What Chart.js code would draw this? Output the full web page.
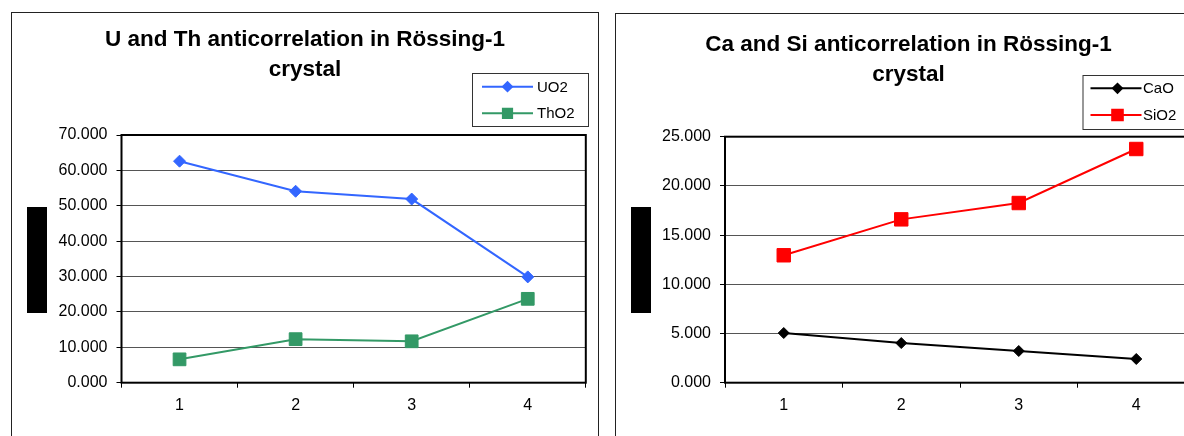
<!DOCTYPE html>
<html>
<head>
<meta charset="utf-8">
<script src="https://cdn.jsdelivr.net/npm/chart.js@4.4.0/dist/chart.umd.min.js"></script>
<style>
  html, body { margin: 0; padding: 0; background: #fff; width: 1184px; height: 436px; overflow: hidden; }
  .frame { position: absolute; border: 1px solid #222; background: #fff; }
  canvas { position: absolute; top: 0; }
</style>
</head>
<body>
<div class="frame" style="left:11px; top:12px; width:586px; height:440px;"></div>
<div class="frame" style="left:615px; top:13px; width:600px; height:440px;"></div>
<canvas id="c1" width="610" height="436" style="left:0px;"></canvas>
<canvas id="c2" width="617" height="436" style="left:600px;"></canvas>
<script>
// ---- data ----
const categories = ['1', '2', '3', '4'];
const uo2Values = [62.6, 54.1, 51.9, 29.9];
const tho2Values = [6.6, 12.3, 11.7, 23.7];
const caoValues = [5.05, 4.03, 3.22, 2.41];
const sio2Values = [12.95, 16.6, 18.26, 23.75];
const leftTicks = [0, 10, 20, 30, 40, 50, 60, 70];
const rightTicks = [0, 5, 10, 15, 20, 25];
const leftTitle = ['U and Th anticorrelation in Rössing-1', 'crystal'];
const rightTitle = ['Ca and Si anticorrelation in Rössing-1', 'crystal'];

const FONT = "'Liberation Sans', Arial, sans-serif";

// plot frame + redacted axis-title block
const framePlugin = {
  id: 'plotFrame',
  beforeDatasetsDraw(chart) {
    const a = chart.chartArea, ctx = chart.ctx;
    ctx.save();
    ctx.strokeStyle = '#000';
    ctx.lineWidth = 2;
    ctx.strokeRect(a.left, a.top, a.right - a.left, a.bottom - a.top);
    const r = chart.options.plugins.plotFrame.block;
    if (r) { ctx.fillStyle = '#000'; ctx.fillRect(r[0], r[1], r[2], r[3]); }
    ctx.restore();
  }
};

// boxed legend drawn from the datasets
const boxLegend = {
  id: 'boxLegend',
  afterDraw(chart) {
    const o = chart.options.plugins.boxLegend;
    const ctx = chart.ctx;
    ctx.save();
    ctx.fillStyle = '#fff';
    ctx.fillRect(o.box[0], o.box[1], o.box[2], o.box[3]);
    ctx.strokeStyle = '#333';
    ctx.lineWidth = 1;
    ctx.strokeRect(o.box[0] + 0.5, o.box[1] + 0.5, o.box[2], o.box[3]);
    chart.data.datasets.forEach((ds, i) => {
      const y = o.rows[i];
      ctx.strokeStyle = ds.borderColor;
      ctx.lineWidth = 2;
      ctx.beginPath();
      ctx.moveTo(o.line[0], y);
      ctx.lineTo(o.line[1], y);
      ctx.stroke();
      ctx.fillStyle = ds.pointBackgroundColor;
      ctx.strokeStyle = ds.pointBorderColor;
      Chart.helpers.drawPoint(ctx, { pointStyle: ds.pointStyle, radius: o.markerRadius[i], rotation: 0, borderWidth: 1 }, o.marker, y);
      ctx.fillStyle = '#000';
      ctx.font = '15px ' + FONT;
      ctx.textAlign = 'left';
      ctx.textBaseline = 'middle';
      ctx.fillText(ds.label, o.text, y + 1);
    });
    ctx.restore();
  }
};

function makeChart(id, cfg) {
  return new Chart(document.getElementById(id), {
    type: 'line',
    data: {
      labels: categories,
      datasets: cfg.series.map(s => ({
        label: s.label,
        data: s.data,
        yAxisID: 'y',
        borderColor: s.color,
        backgroundColor: s.color,
        pointBackgroundColor: s.color,
        pointBorderColor: s.color,
        pointStyle: s.style,
        pointRadius: s.radius,
        pointHoverRadius: s.radius,
        pointBorderWidth: 1,
        borderWidth: 2,
        tension: 0,
        fill: false
      }))
    },
    options: {
      responsive: false,
      animation: false,
      events: [],
      layout: { padding: 0 },
      plugins: {
        legend: { display: false },
        tooltip: { enabled: false },
        title: {
          display: true,
          text: cfg.title,
          color: '#000',
          font: { family: FONT, size: 22.5, weight: 'bold', lineHeight: 1.32 },
          padding: { top: cfg.titleTop, bottom: cfg.titleBottom }
        },
        plotFrame: { block: cfg.block },
        boxLegend: cfg.legend
      },
      scales: {
        x: {
          type: 'category',
          offset: true,
          grid: { offset: true, drawOnChartArea: false, drawTicks: true, tickLength: 5, tickColor: '#000', lineWidth: 1 },
          border: { display: false },
          ticks: { color: '#000', font: { family: FONT, size: 16 }, padding: 8, maxRotation: 0 },
          afterFit(scale) { scale.height = 436 - cfg.bottom; }
        },
        y: {
          position: 'left',
          min: cfg.ticks[0],
          max: cfg.ticks[cfg.ticks.length - 1],
          afterBuildTicks(scale) { scale.ticks = cfg.ticks.map(v => ({ value: v })); },
          grid: { color: '#555', lineWidth: 1, drawTicks: true, tickLength: 5, tickColor: '#000' },
          border: { display: false },
          ticks: {
            color: '#000',
            font: { family: FONT, size: 16 },
            padding: 9,
            callback: v => Number(v).toFixed(3)
          },
          afterFit(scale) { scale.width = cfg.left; }
        },
        spacer: {
          type: 'linear',
          position: 'right',
          display: true,
          grid: { display: false },
          border: { display: false },
          ticks: { display: false },
          afterFit(scale) { scale.width = cfg.padRight; }
        }
      }
    },
    plugins: [framePlugin, boxLegend]
  });
}

makeChart('c1', {
  title: leftTitle,
  titleTop: 25,
  titleBottom: 50.6,
  left: 121.5,
  padRight: 24.2,
  bottom: 382.7,
  ticks: leftTicks,
  block: [27, 207, 20, 106],
  series: [
    { label: 'UO2', data: uo2Values, color: '#3366FF', style: 'rectRot', radius: 6 },
    { label: 'ThO2', data: tho2Values, color: '#339966', style: 'rect', radius: 9 }
  ],
  legend: { box: [472, 73, 116, 53], line: [482, 533], marker: 507.5, markerRadius: [4.5, 6.5], text: 537, rows: [86.7, 113.3] }
});

makeChart('c2', {
  title: rightTitle,
  titleTop: 30,
  titleBottom: 47.3,
  left: 125,
  padRight: 22,
  bottom: 382.7,
  ticks: rightTicks,
  block: [31, 207, 20, 106],
  series: [
    { label: 'CaO', data: caoValues, color: '#000000', style: 'rectRot', radius: 5.5 },
    { label: 'SiO2', data: sio2Values, color: '#FF0000', style: 'rect', radius: 9.5 }
  ],
  legend: { box: [482.5, 75, 116, 54], line: [490.5, 541.5], marker: 517.5, markerRadius: [4.5, 7.5], text: 543, rows: [88.3, 115] }
});
</script>
</body>
</html>
